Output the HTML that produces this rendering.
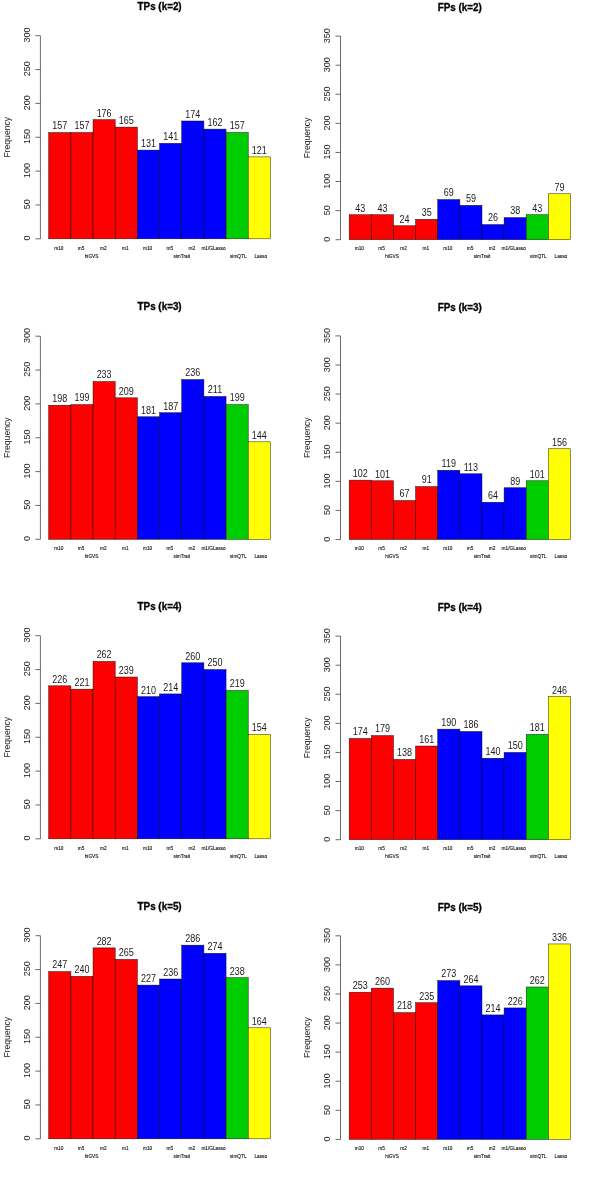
<!DOCTYPE html>
<html lang="en">
<head>
<meta charset="utf-8">
<title>TPs and FPs by method</title>
<style>
html,body{margin:0;padding:0;background:#fff;}
body{width:600px;height:1200px;overflow:hidden;}
svg{display:block;filter:blur(0.45px);font-family:"Liberation Sans",Arial,Helvetica,sans-serif;}
</style>
</head>
<body>
<svg width="600" height="1200" viewBox="0 0 600 1200">
<rect width="600" height="1200" fill="#fff"/>
<g transform="translate(0 0)">
<rect x="48.7" y="132.51" width="22.17" height="106.29" fill="#ff0000" stroke="#000" stroke-opacity="0.8" stroke-width="0.55"/>
<text transform="translate(59.79 129.41) scale(0.9 1)" font-size="10" text-anchor="middle" fill="#1a1a1a">157</text>
<rect x="70.87" y="132.51" width="22.17" height="106.29" fill="#ff0000" stroke="#000" stroke-opacity="0.8" stroke-width="0.55"/>
<text transform="translate(81.96 129.41) scale(0.9 1)" font-size="10" text-anchor="middle" fill="#1a1a1a">157</text>
<rect x="93.04" y="119.65" width="22.17" height="119.15" fill="#ff0000" stroke="#000" stroke-opacity="0.8" stroke-width="0.55"/>
<text transform="translate(104.12 116.55) scale(0.9 1)" font-size="10" text-anchor="middle" fill="#1a1a1a">176</text>
<rect x="115.21" y="127.1" width="22.17" height="111.7" fill="#ff0000" stroke="#000" stroke-opacity="0.8" stroke-width="0.55"/>
<text transform="translate(126.3 124) scale(0.9 1)" font-size="10" text-anchor="middle" fill="#1a1a1a">165</text>
<rect x="137.38" y="150.11" width="22.17" height="88.69" fill="#0000ff" stroke="#000" stroke-opacity="0.8" stroke-width="0.55"/>
<text transform="translate(148.47 147.01) scale(0.9 1)" font-size="10" text-anchor="middle" fill="#1a1a1a">131</text>
<rect x="159.55" y="143.34" width="22.17" height="95.46" fill="#0000ff" stroke="#000" stroke-opacity="0.8" stroke-width="0.55"/>
<text transform="translate(170.64 140.24) scale(0.9 1)" font-size="10" text-anchor="middle" fill="#1a1a1a">141</text>
<rect x="181.72" y="121" width="22.17" height="117.8" fill="#0000ff" stroke="#000" stroke-opacity="0.8" stroke-width="0.55"/>
<text transform="translate(192.81 117.9) scale(0.9 1)" font-size="10" text-anchor="middle" fill="#1a1a1a">174</text>
<rect x="203.89" y="129.13" width="22.17" height="109.67" fill="#0000ff" stroke="#000" stroke-opacity="0.8" stroke-width="0.55"/>
<text transform="translate(214.97 126.03) scale(0.9 1)" font-size="10" text-anchor="middle" fill="#1a1a1a">162</text>
<rect x="226.06" y="132.51" width="22.17" height="106.29" fill="#00cd00" stroke="#000" stroke-opacity="0.8" stroke-width="0.55"/>
<text transform="translate(237.15 129.41) scale(0.9 1)" font-size="10" text-anchor="middle" fill="#1a1a1a">157</text>
<rect x="248.23" y="156.88" width="22.17" height="81.92" fill="#ffff00" stroke="#000" stroke-opacity="0.8" stroke-width="0.55"/>
<text transform="translate(259.31 153.78) scale(0.9 1)" font-size="10" text-anchor="middle" fill="#1a1a1a">121</text>
<text transform="translate(29.7 238.1) rotate(-90) scale(0.96 1)" font-size="9.4" text-anchor="middle" fill="#1a1a1a">0</text>
<text transform="translate(29.7 204.25) rotate(-90) scale(0.96 1)" font-size="9.4" text-anchor="middle" fill="#1a1a1a">50</text>
<text transform="translate(29.7 170.4) rotate(-90) scale(0.96 1)" font-size="9.4" text-anchor="middle" fill="#1a1a1a">100</text>
<text transform="translate(29.7 136.55) rotate(-90) scale(0.96 1)" font-size="9.4" text-anchor="middle" fill="#1a1a1a">150</text>
<text transform="translate(29.7 102.7) rotate(-90) scale(0.96 1)" font-size="9.4" text-anchor="middle" fill="#1a1a1a">200</text>
<text transform="translate(29.7 68.85) rotate(-90) scale(0.96 1)" font-size="9.4" text-anchor="middle" fill="#1a1a1a">250</text>
<text transform="translate(29.7 35) rotate(-90) scale(0.96 1)" font-size="9.4" text-anchor="middle" fill="#1a1a1a">300</text>
<path d="M40.4 35.7V238.8M35.4 238.8H40.4M35.4 204.95H40.4M35.4 171.1H40.4M35.4 137.25H40.4M35.4 103.4H40.4M35.4 69.55H40.4M35.4 35.7H40.4" stroke="#3a3a3a" stroke-width="0.75" fill="none"/>
<text transform="translate(10.2 137.25) rotate(-90) scale(0.97 1)" font-size="8.9" text-anchor="middle" fill="#1a1a1a">Frequency</text>
<text transform="translate(159.6 9.8) scale(0.95 1)" font-size="10.4" text-anchor="middle" font-weight="bold" fill="#000" stroke="#000" stroke-width="0.3">TPs (k=2)</text>
<text transform="translate(58.89 249.5) scale(0.95 1)" font-size="5" text-anchor="middle" fill="#111" stroke="#111" stroke-width="0.12">m10</text>
<text transform="translate(81.06 249.5) scale(0.95 1)" font-size="5" text-anchor="middle" fill="#111" stroke="#111" stroke-width="0.12">m5</text>
<text transform="translate(103.22 249.5) scale(0.95 1)" font-size="5" text-anchor="middle" fill="#111" stroke="#111" stroke-width="0.12">m2</text>
<text transform="translate(125.39 249.5) scale(0.95 1)" font-size="5" text-anchor="middle" fill="#111" stroke="#111" stroke-width="0.12">m1</text>
<text transform="translate(147.57 249.5) scale(0.95 1)" font-size="5" text-anchor="middle" fill="#111" stroke="#111" stroke-width="0.12">m10</text>
<text transform="translate(169.73 249.5) scale(0.95 1)" font-size="5" text-anchor="middle" fill="#111" stroke="#111" stroke-width="0.12">m5</text>
<text transform="translate(191.91 249.5) scale(0.95 1)" font-size="5" text-anchor="middle" fill="#111" stroke="#111" stroke-width="0.12">m2</text>
<text transform="translate(213.48 249.5) scale(0.95 1)" font-size="5" text-anchor="middle" fill="#111" stroke="#111" stroke-width="0.12">m1/GLasso</text>
<text transform="translate(91.54 258.4) scale(0.95 1)" font-size="5" text-anchor="middle" fill="#111" stroke="#111" stroke-width="0.12">hiGVS</text>
<text transform="translate(181.72 258.4) scale(0.95 1)" font-size="5" text-anchor="middle" fill="#111" stroke="#111" stroke-width="0.12">simTrait</text>
<text transform="translate(238.25 258.4) scale(0.95 1)" font-size="5" text-anchor="middle" fill="#111" stroke="#111" stroke-width="0.12">simQTL</text>
<text transform="translate(260.71 258.4) scale(0.95 1)" font-size="5" text-anchor="middle" fill="#111" stroke="#111" stroke-width="0.12">Lasso</text>
</g>
<g transform="translate(300.1 0)">
<rect x="49.1" y="214.69" width="22.13" height="25.01" fill="#ff0000" stroke="#000" stroke-opacity="0.8" stroke-width="0.55"/>
<text transform="translate(60.16 211.59) scale(0.9 1)" font-size="10" text-anchor="middle" fill="#1a1a1a">43</text>
<rect x="71.23" y="214.69" width="22.13" height="25.01" fill="#ff0000" stroke="#000" stroke-opacity="0.8" stroke-width="0.55"/>
<text transform="translate(82.3 211.59) scale(0.9 1)" font-size="10" text-anchor="middle" fill="#1a1a1a">43</text>
<rect x="93.36" y="225.74" width="22.13" height="13.96" fill="#ff0000" stroke="#000" stroke-opacity="0.8" stroke-width="0.55"/>
<text transform="translate(104.42 222.64) scale(0.9 1)" font-size="10" text-anchor="middle" fill="#1a1a1a">24</text>
<rect x="115.49" y="219.34" width="22.13" height="20.36" fill="#ff0000" stroke="#000" stroke-opacity="0.8" stroke-width="0.55"/>
<text transform="translate(126.56 216.24) scale(0.9 1)" font-size="10" text-anchor="middle" fill="#1a1a1a">35</text>
<rect x="137.62" y="199.56" width="22.13" height="40.14" fill="#0000ff" stroke="#000" stroke-opacity="0.8" stroke-width="0.55"/>
<text transform="translate(148.69 196.46) scale(0.9 1)" font-size="10" text-anchor="middle" fill="#1a1a1a">69</text>
<rect x="159.75" y="205.38" width="22.13" height="34.32" fill="#0000ff" stroke="#000" stroke-opacity="0.8" stroke-width="0.55"/>
<text transform="translate(170.81 202.28) scale(0.9 1)" font-size="10" text-anchor="middle" fill="#1a1a1a">59</text>
<rect x="181.88" y="224.58" width="22.13" height="15.12" fill="#0000ff" stroke="#000" stroke-opacity="0.8" stroke-width="0.55"/>
<text transform="translate(192.94 221.48) scale(0.9 1)" font-size="10" text-anchor="middle" fill="#1a1a1a">26</text>
<rect x="204.01" y="217.59" width="22.13" height="22.11" fill="#0000ff" stroke="#000" stroke-opacity="0.8" stroke-width="0.55"/>
<text transform="translate(215.07 214.49) scale(0.9 1)" font-size="10" text-anchor="middle" fill="#1a1a1a">38</text>
<rect x="226.14" y="214.69" width="22.13" height="25.01" fill="#00cd00" stroke="#000" stroke-opacity="0.8" stroke-width="0.55"/>
<text transform="translate(237.2 211.59) scale(0.9 1)" font-size="10" text-anchor="middle" fill="#1a1a1a">43</text>
<rect x="248.27" y="193.74" width="22.13" height="45.96" fill="#ffff00" stroke="#000" stroke-opacity="0.8" stroke-width="0.55"/>
<text transform="translate(259.33 190.64) scale(0.9 1)" font-size="10" text-anchor="middle" fill="#1a1a1a">79</text>
<text transform="translate(29.7 239.35) rotate(-90) scale(0.96 1)" font-size="9.4" text-anchor="middle" fill="#1a1a1a">0</text>
<text transform="translate(29.7 210.26) rotate(-90) scale(0.96 1)" font-size="9.4" text-anchor="middle" fill="#1a1a1a">50</text>
<text transform="translate(29.7 181.18) rotate(-90) scale(0.96 1)" font-size="9.4" text-anchor="middle" fill="#1a1a1a">100</text>
<text transform="translate(29.7 152.09) rotate(-90) scale(0.96 1)" font-size="9.4" text-anchor="middle" fill="#1a1a1a">150</text>
<text transform="translate(29.7 123.01) rotate(-90) scale(0.96 1)" font-size="9.4" text-anchor="middle" fill="#1a1a1a">200</text>
<text transform="translate(29.7 93.92) rotate(-90) scale(0.96 1)" font-size="9.4" text-anchor="middle" fill="#1a1a1a">250</text>
<text transform="translate(29.7 64.84) rotate(-90) scale(0.96 1)" font-size="9.4" text-anchor="middle" fill="#1a1a1a">300</text>
<text transform="translate(29.7 35.75) rotate(-90) scale(0.96 1)" font-size="9.4" text-anchor="middle" fill="#1a1a1a">350</text>
<path d="M40.4 36.1V239.7M35.4 239.7H40.4M35.4 210.61H40.4M35.4 181.53H40.4M35.4 152.44H40.4M35.4 123.36H40.4M35.4 94.27H40.4M35.4 65.19H40.4M35.4 36.1H40.4" stroke="#3a3a3a" stroke-width="0.75" fill="none"/>
<text transform="translate(10.2 137.9) rotate(-90) scale(0.97 1)" font-size="8.9" text-anchor="middle" fill="#1a1a1a">Frequency</text>
<text transform="translate(159.6 10.5) scale(0.95 1)" font-size="10.4" text-anchor="middle" font-weight="bold" fill="#000" stroke="#000" stroke-width="0.3">FPs (k=2)</text>
<text transform="translate(59.27 249.5) scale(0.95 1)" font-size="5" text-anchor="middle" fill="#111" stroke="#111" stroke-width="0.12">m10</text>
<text transform="translate(81.39 249.5) scale(0.95 1)" font-size="5" text-anchor="middle" fill="#111" stroke="#111" stroke-width="0.12">m5</text>
<text transform="translate(103.52 249.5) scale(0.95 1)" font-size="5" text-anchor="middle" fill="#111" stroke="#111" stroke-width="0.12">m2</text>
<text transform="translate(125.66 249.5) scale(0.95 1)" font-size="5" text-anchor="middle" fill="#111" stroke="#111" stroke-width="0.12">m1</text>
<text transform="translate(147.78 249.5) scale(0.95 1)" font-size="5" text-anchor="middle" fill="#111" stroke="#111" stroke-width="0.12">m10</text>
<text transform="translate(169.91 249.5) scale(0.95 1)" font-size="5" text-anchor="middle" fill="#111" stroke="#111" stroke-width="0.12">m5</text>
<text transform="translate(192.04 249.5) scale(0.95 1)" font-size="5" text-anchor="middle" fill="#111" stroke="#111" stroke-width="0.12">m2</text>
<text transform="translate(213.57 249.5) scale(0.95 1)" font-size="5" text-anchor="middle" fill="#111" stroke="#111" stroke-width="0.12">m1/GLasso</text>
<text transform="translate(91.86 258.4) scale(0.95 1)" font-size="5" text-anchor="middle" fill="#111" stroke="#111" stroke-width="0.12">hiGVS</text>
<text transform="translate(181.88 258.4) scale(0.95 1)" font-size="5" text-anchor="middle" fill="#111" stroke="#111" stroke-width="0.12">simTrait</text>
<text transform="translate(238.3 258.4) scale(0.95 1)" font-size="5" text-anchor="middle" fill="#111" stroke="#111" stroke-width="0.12">simQTL</text>
<text transform="translate(260.73 258.4) scale(0.95 1)" font-size="5" text-anchor="middle" fill="#111" stroke="#111" stroke-width="0.12">Lasso</text>
</g>
<g transform="translate(0 300)">
<rect x="48.7" y="105.25" width="22.17" height="134.05" fill="#ff0000" stroke="#000" stroke-opacity="0.8" stroke-width="0.55"/>
<text transform="translate(59.79 102.15) scale(0.9 1)" font-size="10" text-anchor="middle" fill="#1a1a1a">198</text>
<rect x="70.87" y="104.58" width="22.17" height="134.72" fill="#ff0000" stroke="#000" stroke-opacity="0.8" stroke-width="0.55"/>
<text transform="translate(81.96 101.48) scale(0.9 1)" font-size="10" text-anchor="middle" fill="#1a1a1a">199</text>
<rect x="93.04" y="81.56" width="22.17" height="157.74" fill="#ff0000" stroke="#000" stroke-opacity="0.8" stroke-width="0.55"/>
<text transform="translate(104.12 78.46) scale(0.9 1)" font-size="10" text-anchor="middle" fill="#1a1a1a">233</text>
<rect x="115.21" y="97.81" width="22.17" height="141.49" fill="#ff0000" stroke="#000" stroke-opacity="0.8" stroke-width="0.55"/>
<text transform="translate(126.3 94.71) scale(0.9 1)" font-size="10" text-anchor="middle" fill="#1a1a1a">209</text>
<rect x="137.38" y="116.76" width="22.17" height="122.54" fill="#0000ff" stroke="#000" stroke-opacity="0.8" stroke-width="0.55"/>
<text transform="translate(148.47 113.66) scale(0.9 1)" font-size="10" text-anchor="middle" fill="#1a1a1a">181</text>
<rect x="159.55" y="112.7" width="22.17" height="126.6" fill="#0000ff" stroke="#000" stroke-opacity="0.8" stroke-width="0.55"/>
<text transform="translate(170.64 109.6) scale(0.9 1)" font-size="10" text-anchor="middle" fill="#1a1a1a">187</text>
<rect x="181.72" y="79.53" width="22.17" height="159.77" fill="#0000ff" stroke="#000" stroke-opacity="0.8" stroke-width="0.55"/>
<text transform="translate(192.81 76.43) scale(0.9 1)" font-size="10" text-anchor="middle" fill="#1a1a1a">236</text>
<rect x="203.89" y="96.45" width="22.17" height="142.85" fill="#0000ff" stroke="#000" stroke-opacity="0.8" stroke-width="0.55"/>
<text transform="translate(214.97 93.35) scale(0.9 1)" font-size="10" text-anchor="middle" fill="#1a1a1a">211</text>
<rect x="226.06" y="104.58" width="22.17" height="134.72" fill="#00cd00" stroke="#000" stroke-opacity="0.8" stroke-width="0.55"/>
<text transform="translate(237.15 101.48) scale(0.9 1)" font-size="10" text-anchor="middle" fill="#1a1a1a">199</text>
<rect x="248.23" y="141.81" width="22.17" height="97.49" fill="#ffff00" stroke="#000" stroke-opacity="0.8" stroke-width="0.55"/>
<text transform="translate(259.31 138.71) scale(0.9 1)" font-size="10" text-anchor="middle" fill="#1a1a1a">144</text>
<text transform="translate(29.7 238.6) rotate(-90) scale(0.96 1)" font-size="9.4" text-anchor="middle" fill="#1a1a1a">0</text>
<text transform="translate(29.7 204.75) rotate(-90) scale(0.96 1)" font-size="9.4" text-anchor="middle" fill="#1a1a1a">50</text>
<text transform="translate(29.7 170.9) rotate(-90) scale(0.96 1)" font-size="9.4" text-anchor="middle" fill="#1a1a1a">100</text>
<text transform="translate(29.7 137.05) rotate(-90) scale(0.96 1)" font-size="9.4" text-anchor="middle" fill="#1a1a1a">150</text>
<text transform="translate(29.7 103.2) rotate(-90) scale(0.96 1)" font-size="9.4" text-anchor="middle" fill="#1a1a1a">200</text>
<text transform="translate(29.7 69.35) rotate(-90) scale(0.96 1)" font-size="9.4" text-anchor="middle" fill="#1a1a1a">250</text>
<text transform="translate(29.7 35.5) rotate(-90) scale(0.96 1)" font-size="9.4" text-anchor="middle" fill="#1a1a1a">300</text>
<path d="M40.4 36.2V239.3M35.4 239.3H40.4M35.4 205.45H40.4M35.4 171.6H40.4M35.4 137.75H40.4M35.4 103.9H40.4M35.4 70.05H40.4M35.4 36.2H40.4" stroke="#3a3a3a" stroke-width="0.75" fill="none"/>
<text transform="translate(10.2 137.75) rotate(-90) scale(0.97 1)" font-size="8.9" text-anchor="middle" fill="#1a1a1a">Frequency</text>
<text transform="translate(159.6 9.8) scale(0.95 1)" font-size="10.4" text-anchor="middle" font-weight="bold" fill="#000" stroke="#000" stroke-width="0.3">TPs (k=3)</text>
<text transform="translate(58.89 249.5) scale(0.95 1)" font-size="5" text-anchor="middle" fill="#111" stroke="#111" stroke-width="0.12">m10</text>
<text transform="translate(81.06 249.5) scale(0.95 1)" font-size="5" text-anchor="middle" fill="#111" stroke="#111" stroke-width="0.12">m5</text>
<text transform="translate(103.22 249.5) scale(0.95 1)" font-size="5" text-anchor="middle" fill="#111" stroke="#111" stroke-width="0.12">m2</text>
<text transform="translate(125.39 249.5) scale(0.95 1)" font-size="5" text-anchor="middle" fill="#111" stroke="#111" stroke-width="0.12">m1</text>
<text transform="translate(147.57 249.5) scale(0.95 1)" font-size="5" text-anchor="middle" fill="#111" stroke="#111" stroke-width="0.12">m10</text>
<text transform="translate(169.73 249.5) scale(0.95 1)" font-size="5" text-anchor="middle" fill="#111" stroke="#111" stroke-width="0.12">m5</text>
<text transform="translate(191.91 249.5) scale(0.95 1)" font-size="5" text-anchor="middle" fill="#111" stroke="#111" stroke-width="0.12">m2</text>
<text transform="translate(213.48 249.5) scale(0.95 1)" font-size="5" text-anchor="middle" fill="#111" stroke="#111" stroke-width="0.12">m1/GLasso</text>
<text transform="translate(91.54 258.4) scale(0.95 1)" font-size="5" text-anchor="middle" fill="#111" stroke="#111" stroke-width="0.12">hiGVS</text>
<text transform="translate(181.72 258.4) scale(0.95 1)" font-size="5" text-anchor="middle" fill="#111" stroke="#111" stroke-width="0.12">simTrait</text>
<text transform="translate(238.25 258.4) scale(0.95 1)" font-size="5" text-anchor="middle" fill="#111" stroke="#111" stroke-width="0.12">simQTL</text>
<text transform="translate(260.71 258.4) scale(0.95 1)" font-size="5" text-anchor="middle" fill="#111" stroke="#111" stroke-width="0.12">Lasso</text>
</g>
<g transform="translate(300.1 300)">
<rect x="49.1" y="180.17" width="22.13" height="59.33" fill="#ff0000" stroke="#000" stroke-opacity="0.8" stroke-width="0.55"/>
<text transform="translate(60.16 177.07) scale(0.9 1)" font-size="10" text-anchor="middle" fill="#1a1a1a">102</text>
<rect x="71.23" y="180.75" width="22.13" height="58.75" fill="#ff0000" stroke="#000" stroke-opacity="0.8" stroke-width="0.55"/>
<text transform="translate(82.3 177.65) scale(0.9 1)" font-size="10" text-anchor="middle" fill="#1a1a1a">101</text>
<rect x="93.36" y="200.53" width="22.13" height="38.97" fill="#ff0000" stroke="#000" stroke-opacity="0.8" stroke-width="0.55"/>
<text transform="translate(104.42 197.43) scale(0.9 1)" font-size="10" text-anchor="middle" fill="#1a1a1a">67</text>
<rect x="115.49" y="186.56" width="22.13" height="52.94" fill="#ff0000" stroke="#000" stroke-opacity="0.8" stroke-width="0.55"/>
<text transform="translate(126.56 183.46) scale(0.9 1)" font-size="10" text-anchor="middle" fill="#1a1a1a">91</text>
<rect x="137.62" y="170.28" width="22.13" height="69.22" fill="#0000ff" stroke="#000" stroke-opacity="0.8" stroke-width="0.55"/>
<text transform="translate(148.69 167.18) scale(0.9 1)" font-size="10" text-anchor="middle" fill="#1a1a1a">119</text>
<rect x="159.75" y="173.77" width="22.13" height="65.73" fill="#0000ff" stroke="#000" stroke-opacity="0.8" stroke-width="0.55"/>
<text transform="translate(170.81 170.67) scale(0.9 1)" font-size="10" text-anchor="middle" fill="#1a1a1a">113</text>
<rect x="181.88" y="202.27" width="22.13" height="37.23" fill="#0000ff" stroke="#000" stroke-opacity="0.8" stroke-width="0.55"/>
<text transform="translate(192.94 199.17) scale(0.9 1)" font-size="10" text-anchor="middle" fill="#1a1a1a">64</text>
<rect x="204.01" y="187.73" width="22.13" height="51.77" fill="#0000ff" stroke="#000" stroke-opacity="0.8" stroke-width="0.55"/>
<text transform="translate(215.07 184.63) scale(0.9 1)" font-size="10" text-anchor="middle" fill="#1a1a1a">89</text>
<rect x="226.14" y="180.75" width="22.13" height="58.75" fill="#00cd00" stroke="#000" stroke-opacity="0.8" stroke-width="0.55"/>
<text transform="translate(237.2 177.65) scale(0.9 1)" font-size="10" text-anchor="middle" fill="#1a1a1a">101</text>
<rect x="248.27" y="148.75" width="22.13" height="90.75" fill="#ffff00" stroke="#000" stroke-opacity="0.8" stroke-width="0.55"/>
<text transform="translate(259.33 145.65) scale(0.9 1)" font-size="10" text-anchor="middle" fill="#1a1a1a">156</text>
<text transform="translate(29.7 239.15) rotate(-90) scale(0.96 1)" font-size="9.4" text-anchor="middle" fill="#1a1a1a">0</text>
<text transform="translate(29.7 210.06) rotate(-90) scale(0.96 1)" font-size="9.4" text-anchor="middle" fill="#1a1a1a">50</text>
<text transform="translate(29.7 180.98) rotate(-90) scale(0.96 1)" font-size="9.4" text-anchor="middle" fill="#1a1a1a">100</text>
<text transform="translate(29.7 151.89) rotate(-90) scale(0.96 1)" font-size="9.4" text-anchor="middle" fill="#1a1a1a">150</text>
<text transform="translate(29.7 122.81) rotate(-90) scale(0.96 1)" font-size="9.4" text-anchor="middle" fill="#1a1a1a">200</text>
<text transform="translate(29.7 93.72) rotate(-90) scale(0.96 1)" font-size="9.4" text-anchor="middle" fill="#1a1a1a">250</text>
<text transform="translate(29.7 64.64) rotate(-90) scale(0.96 1)" font-size="9.4" text-anchor="middle" fill="#1a1a1a">300</text>
<text transform="translate(29.7 35.55) rotate(-90) scale(0.96 1)" font-size="9.4" text-anchor="middle" fill="#1a1a1a">350</text>
<path d="M40.4 35.9V239.5M35.4 239.5H40.4M35.4 210.41H40.4M35.4 181.33H40.4M35.4 152.24H40.4M35.4 123.16H40.4M35.4 94.07H40.4M35.4 64.99H40.4M35.4 35.9H40.4" stroke="#3a3a3a" stroke-width="0.75" fill="none"/>
<text transform="translate(10.2 137.7) rotate(-90) scale(0.97 1)" font-size="8.9" text-anchor="middle" fill="#1a1a1a">Frequency</text>
<text transform="translate(159.6 10.5) scale(0.95 1)" font-size="10.4" text-anchor="middle" font-weight="bold" fill="#000" stroke="#000" stroke-width="0.3">FPs (k=3)</text>
<text transform="translate(59.27 249.5) scale(0.95 1)" font-size="5" text-anchor="middle" fill="#111" stroke="#111" stroke-width="0.12">m10</text>
<text transform="translate(81.39 249.5) scale(0.95 1)" font-size="5" text-anchor="middle" fill="#111" stroke="#111" stroke-width="0.12">m5</text>
<text transform="translate(103.52 249.5) scale(0.95 1)" font-size="5" text-anchor="middle" fill="#111" stroke="#111" stroke-width="0.12">m2</text>
<text transform="translate(125.66 249.5) scale(0.95 1)" font-size="5" text-anchor="middle" fill="#111" stroke="#111" stroke-width="0.12">m1</text>
<text transform="translate(147.78 249.5) scale(0.95 1)" font-size="5" text-anchor="middle" fill="#111" stroke="#111" stroke-width="0.12">m10</text>
<text transform="translate(169.91 249.5) scale(0.95 1)" font-size="5" text-anchor="middle" fill="#111" stroke="#111" stroke-width="0.12">m5</text>
<text transform="translate(192.04 249.5) scale(0.95 1)" font-size="5" text-anchor="middle" fill="#111" stroke="#111" stroke-width="0.12">m2</text>
<text transform="translate(213.57 249.5) scale(0.95 1)" font-size="5" text-anchor="middle" fill="#111" stroke="#111" stroke-width="0.12">m1/GLasso</text>
<text transform="translate(91.86 258.4) scale(0.95 1)" font-size="5" text-anchor="middle" fill="#111" stroke="#111" stroke-width="0.12">hiGVS</text>
<text transform="translate(181.88 258.4) scale(0.95 1)" font-size="5" text-anchor="middle" fill="#111" stroke="#111" stroke-width="0.12">simTrait</text>
<text transform="translate(238.3 258.4) scale(0.95 1)" font-size="5" text-anchor="middle" fill="#111" stroke="#111" stroke-width="0.12">simQTL</text>
<text transform="translate(260.73 258.4) scale(0.95 1)" font-size="5" text-anchor="middle" fill="#111" stroke="#111" stroke-width="0.12">Lasso</text>
</g>
<g transform="translate(0 600)">
<rect x="48.7" y="85.8" width="22.17" height="153" fill="#ff0000" stroke="#000" stroke-opacity="0.8" stroke-width="0.55"/>
<text transform="translate(59.79 82.7) scale(0.9 1)" font-size="10" text-anchor="middle" fill="#1a1a1a">226</text>
<rect x="70.87" y="89.18" width="22.17" height="149.62" fill="#ff0000" stroke="#000" stroke-opacity="0.8" stroke-width="0.55"/>
<text transform="translate(81.96 86.08) scale(0.9 1)" font-size="10" text-anchor="middle" fill="#1a1a1a">221</text>
<rect x="93.04" y="61.43" width="22.17" height="177.37" fill="#ff0000" stroke="#000" stroke-opacity="0.8" stroke-width="0.55"/>
<text transform="translate(104.12 58.33) scale(0.9 1)" font-size="10" text-anchor="middle" fill="#1a1a1a">262</text>
<rect x="115.21" y="77" width="22.17" height="161.8" fill="#ff0000" stroke="#000" stroke-opacity="0.8" stroke-width="0.55"/>
<text transform="translate(126.3 73.9) scale(0.9 1)" font-size="10" text-anchor="middle" fill="#1a1a1a">239</text>
<rect x="137.38" y="96.63" width="22.17" height="142.17" fill="#0000ff" stroke="#000" stroke-opacity="0.8" stroke-width="0.55"/>
<text transform="translate(148.47 93.53) scale(0.9 1)" font-size="10" text-anchor="middle" fill="#1a1a1a">210</text>
<rect x="159.55" y="93.92" width="22.17" height="144.88" fill="#0000ff" stroke="#000" stroke-opacity="0.8" stroke-width="0.55"/>
<text transform="translate(170.64 90.82) scale(0.9 1)" font-size="10" text-anchor="middle" fill="#1a1a1a">214</text>
<rect x="181.72" y="62.78" width="22.17" height="176.02" fill="#0000ff" stroke="#000" stroke-opacity="0.8" stroke-width="0.55"/>
<text transform="translate(192.81 59.68) scale(0.9 1)" font-size="10" text-anchor="middle" fill="#1a1a1a">260</text>
<rect x="203.89" y="69.55" width="22.17" height="169.25" fill="#0000ff" stroke="#000" stroke-opacity="0.8" stroke-width="0.55"/>
<text transform="translate(214.97 66.45) scale(0.9 1)" font-size="10" text-anchor="middle" fill="#1a1a1a">250</text>
<rect x="226.06" y="90.54" width="22.17" height="148.26" fill="#00cd00" stroke="#000" stroke-opacity="0.8" stroke-width="0.55"/>
<text transform="translate(237.15 87.44) scale(0.9 1)" font-size="10" text-anchor="middle" fill="#1a1a1a">219</text>
<rect x="248.23" y="134.54" width="22.17" height="104.26" fill="#ffff00" stroke="#000" stroke-opacity="0.8" stroke-width="0.55"/>
<text transform="translate(259.31 131.44) scale(0.9 1)" font-size="10" text-anchor="middle" fill="#1a1a1a">154</text>
<text transform="translate(29.7 238.1) rotate(-90) scale(0.96 1)" font-size="9.4" text-anchor="middle" fill="#1a1a1a">0</text>
<text transform="translate(29.7 204.25) rotate(-90) scale(0.96 1)" font-size="9.4" text-anchor="middle" fill="#1a1a1a">50</text>
<text transform="translate(29.7 170.4) rotate(-90) scale(0.96 1)" font-size="9.4" text-anchor="middle" fill="#1a1a1a">100</text>
<text transform="translate(29.7 136.55) rotate(-90) scale(0.96 1)" font-size="9.4" text-anchor="middle" fill="#1a1a1a">150</text>
<text transform="translate(29.7 102.7) rotate(-90) scale(0.96 1)" font-size="9.4" text-anchor="middle" fill="#1a1a1a">200</text>
<text transform="translate(29.7 68.85) rotate(-90) scale(0.96 1)" font-size="9.4" text-anchor="middle" fill="#1a1a1a">250</text>
<text transform="translate(29.7 35) rotate(-90) scale(0.96 1)" font-size="9.4" text-anchor="middle" fill="#1a1a1a">300</text>
<path d="M40.4 35.7V238.8M35.4 238.8H40.4M35.4 204.95H40.4M35.4 171.1H40.4M35.4 137.25H40.4M35.4 103.4H40.4M35.4 69.55H40.4M35.4 35.7H40.4" stroke="#3a3a3a" stroke-width="0.75" fill="none"/>
<text transform="translate(10.2 137.25) rotate(-90) scale(0.97 1)" font-size="8.9" text-anchor="middle" fill="#1a1a1a">Frequency</text>
<text transform="translate(159.6 9.8) scale(0.95 1)" font-size="10.4" text-anchor="middle" font-weight="bold" fill="#000" stroke="#000" stroke-width="0.3">TPs (k=4)</text>
<text transform="translate(58.89 249.5) scale(0.95 1)" font-size="5" text-anchor="middle" fill="#111" stroke="#111" stroke-width="0.12">m10</text>
<text transform="translate(81.06 249.5) scale(0.95 1)" font-size="5" text-anchor="middle" fill="#111" stroke="#111" stroke-width="0.12">m5</text>
<text transform="translate(103.22 249.5) scale(0.95 1)" font-size="5" text-anchor="middle" fill="#111" stroke="#111" stroke-width="0.12">m2</text>
<text transform="translate(125.39 249.5) scale(0.95 1)" font-size="5" text-anchor="middle" fill="#111" stroke="#111" stroke-width="0.12">m1</text>
<text transform="translate(147.57 249.5) scale(0.95 1)" font-size="5" text-anchor="middle" fill="#111" stroke="#111" stroke-width="0.12">m10</text>
<text transform="translate(169.73 249.5) scale(0.95 1)" font-size="5" text-anchor="middle" fill="#111" stroke="#111" stroke-width="0.12">m5</text>
<text transform="translate(191.91 249.5) scale(0.95 1)" font-size="5" text-anchor="middle" fill="#111" stroke="#111" stroke-width="0.12">m2</text>
<text transform="translate(213.48 249.5) scale(0.95 1)" font-size="5" text-anchor="middle" fill="#111" stroke="#111" stroke-width="0.12">m1/GLasso</text>
<text transform="translate(91.54 258.4) scale(0.95 1)" font-size="5" text-anchor="middle" fill="#111" stroke="#111" stroke-width="0.12">hiGVS</text>
<text transform="translate(181.72 258.4) scale(0.95 1)" font-size="5" text-anchor="middle" fill="#111" stroke="#111" stroke-width="0.12">simTrait</text>
<text transform="translate(238.25 258.4) scale(0.95 1)" font-size="5" text-anchor="middle" fill="#111" stroke="#111" stroke-width="0.12">simQTL</text>
<text transform="translate(260.71 258.4) scale(0.95 1)" font-size="5" text-anchor="middle" fill="#111" stroke="#111" stroke-width="0.12">Lasso</text>
</g>
<g transform="translate(300.1 600)">
<rect x="49.1" y="138.48" width="22.13" height="101.22" fill="#ff0000" stroke="#000" stroke-opacity="0.8" stroke-width="0.55"/>
<text transform="translate(60.16 135.38) scale(0.9 1)" font-size="10" text-anchor="middle" fill="#1a1a1a">174</text>
<rect x="71.23" y="135.57" width="22.13" height="104.13" fill="#ff0000" stroke="#000" stroke-opacity="0.8" stroke-width="0.55"/>
<text transform="translate(82.3 132.47) scale(0.9 1)" font-size="10" text-anchor="middle" fill="#1a1a1a">179</text>
<rect x="93.36" y="159.42" width="22.13" height="80.28" fill="#ff0000" stroke="#000" stroke-opacity="0.8" stroke-width="0.55"/>
<text transform="translate(104.42 156.32) scale(0.9 1)" font-size="10" text-anchor="middle" fill="#1a1a1a">138</text>
<rect x="115.49" y="146.04" width="22.13" height="93.66" fill="#ff0000" stroke="#000" stroke-opacity="0.8" stroke-width="0.55"/>
<text transform="translate(126.56 142.94) scale(0.9 1)" font-size="10" text-anchor="middle" fill="#1a1a1a">161</text>
<rect x="137.62" y="129.17" width="22.13" height="110.53" fill="#0000ff" stroke="#000" stroke-opacity="0.8" stroke-width="0.55"/>
<text transform="translate(148.69 126.07) scale(0.9 1)" font-size="10" text-anchor="middle" fill="#1a1a1a">190</text>
<rect x="159.75" y="131.5" width="22.13" height="108.2" fill="#0000ff" stroke="#000" stroke-opacity="0.8" stroke-width="0.55"/>
<text transform="translate(170.81 128.4) scale(0.9 1)" font-size="10" text-anchor="middle" fill="#1a1a1a">186</text>
<rect x="181.88" y="158.26" width="22.13" height="81.44" fill="#0000ff" stroke="#000" stroke-opacity="0.8" stroke-width="0.55"/>
<text transform="translate(192.94 155.16) scale(0.9 1)" font-size="10" text-anchor="middle" fill="#1a1a1a">140</text>
<rect x="204.01" y="152.44" width="22.13" height="87.26" fill="#0000ff" stroke="#000" stroke-opacity="0.8" stroke-width="0.55"/>
<text transform="translate(215.07 149.34) scale(0.9 1)" font-size="10" text-anchor="middle" fill="#1a1a1a">150</text>
<rect x="226.14" y="134.41" width="22.13" height="105.29" fill="#00cd00" stroke="#000" stroke-opacity="0.8" stroke-width="0.55"/>
<text transform="translate(237.2 131.31) scale(0.9 1)" font-size="10" text-anchor="middle" fill="#1a1a1a">181</text>
<rect x="248.27" y="96.6" width="22.13" height="143.1" fill="#ffff00" stroke="#000" stroke-opacity="0.8" stroke-width="0.55"/>
<text transform="translate(259.33 93.5) scale(0.9 1)" font-size="10" text-anchor="middle" fill="#1a1a1a">246</text>
<text transform="translate(29.7 239.35) rotate(-90) scale(0.96 1)" font-size="9.4" text-anchor="middle" fill="#1a1a1a">0</text>
<text transform="translate(29.7 210.26) rotate(-90) scale(0.96 1)" font-size="9.4" text-anchor="middle" fill="#1a1a1a">50</text>
<text transform="translate(29.7 181.18) rotate(-90) scale(0.96 1)" font-size="9.4" text-anchor="middle" fill="#1a1a1a">100</text>
<text transform="translate(29.7 152.09) rotate(-90) scale(0.96 1)" font-size="9.4" text-anchor="middle" fill="#1a1a1a">150</text>
<text transform="translate(29.7 123.01) rotate(-90) scale(0.96 1)" font-size="9.4" text-anchor="middle" fill="#1a1a1a">200</text>
<text transform="translate(29.7 93.92) rotate(-90) scale(0.96 1)" font-size="9.4" text-anchor="middle" fill="#1a1a1a">250</text>
<text transform="translate(29.7 64.84) rotate(-90) scale(0.96 1)" font-size="9.4" text-anchor="middle" fill="#1a1a1a">300</text>
<text transform="translate(29.7 35.75) rotate(-90) scale(0.96 1)" font-size="9.4" text-anchor="middle" fill="#1a1a1a">350</text>
<path d="M40.4 36.1V239.7M35.4 239.7H40.4M35.4 210.61H40.4M35.4 181.53H40.4M35.4 152.44H40.4M35.4 123.36H40.4M35.4 94.27H40.4M35.4 65.19H40.4M35.4 36.1H40.4" stroke="#3a3a3a" stroke-width="0.75" fill="none"/>
<text transform="translate(10.2 137.9) rotate(-90) scale(0.97 1)" font-size="8.9" text-anchor="middle" fill="#1a1a1a">Frequency</text>
<text transform="translate(159.6 10.5) scale(0.95 1)" font-size="10.4" text-anchor="middle" font-weight="bold" fill="#000" stroke="#000" stroke-width="0.3">FPs (k=4)</text>
<text transform="translate(59.27 249.5) scale(0.95 1)" font-size="5" text-anchor="middle" fill="#111" stroke="#111" stroke-width="0.12">m10</text>
<text transform="translate(81.39 249.5) scale(0.95 1)" font-size="5" text-anchor="middle" fill="#111" stroke="#111" stroke-width="0.12">m5</text>
<text transform="translate(103.52 249.5) scale(0.95 1)" font-size="5" text-anchor="middle" fill="#111" stroke="#111" stroke-width="0.12">m2</text>
<text transform="translate(125.66 249.5) scale(0.95 1)" font-size="5" text-anchor="middle" fill="#111" stroke="#111" stroke-width="0.12">m1</text>
<text transform="translate(147.78 249.5) scale(0.95 1)" font-size="5" text-anchor="middle" fill="#111" stroke="#111" stroke-width="0.12">m10</text>
<text transform="translate(169.91 249.5) scale(0.95 1)" font-size="5" text-anchor="middle" fill="#111" stroke="#111" stroke-width="0.12">m5</text>
<text transform="translate(192.04 249.5) scale(0.95 1)" font-size="5" text-anchor="middle" fill="#111" stroke="#111" stroke-width="0.12">m2</text>
<text transform="translate(213.57 249.5) scale(0.95 1)" font-size="5" text-anchor="middle" fill="#111" stroke="#111" stroke-width="0.12">m1/GLasso</text>
<text transform="translate(91.86 258.4) scale(0.95 1)" font-size="5" text-anchor="middle" fill="#111" stroke="#111" stroke-width="0.12">hiGVS</text>
<text transform="translate(181.88 258.4) scale(0.95 1)" font-size="5" text-anchor="middle" fill="#111" stroke="#111" stroke-width="0.12">simTrait</text>
<text transform="translate(238.3 258.4) scale(0.95 1)" font-size="5" text-anchor="middle" fill="#111" stroke="#111" stroke-width="0.12">simQTL</text>
<text transform="translate(260.73 258.4) scale(0.95 1)" font-size="5" text-anchor="middle" fill="#111" stroke="#111" stroke-width="0.12">Lasso</text>
</g>
<g transform="translate(0 900)">
<rect x="48.7" y="71.58" width="22.17" height="167.22" fill="#ff0000" stroke="#000" stroke-opacity="0.8" stroke-width="0.55"/>
<text transform="translate(59.79 68.48) scale(0.9 1)" font-size="10" text-anchor="middle" fill="#1a1a1a">247</text>
<rect x="70.87" y="76.32" width="22.17" height="162.48" fill="#ff0000" stroke="#000" stroke-opacity="0.8" stroke-width="0.55"/>
<text transform="translate(81.96 73.22) scale(0.9 1)" font-size="10" text-anchor="middle" fill="#1a1a1a">240</text>
<rect x="93.04" y="47.89" width="22.17" height="190.91" fill="#ff0000" stroke="#000" stroke-opacity="0.8" stroke-width="0.55"/>
<text transform="translate(104.12 44.79) scale(0.9 1)" font-size="10" text-anchor="middle" fill="#1a1a1a">282</text>
<rect x="115.21" y="59.4" width="22.17" height="179.4" fill="#ff0000" stroke="#000" stroke-opacity="0.8" stroke-width="0.55"/>
<text transform="translate(126.3 56.3) scale(0.9 1)" font-size="10" text-anchor="middle" fill="#1a1a1a">265</text>
<rect x="137.38" y="85.12" width="22.17" height="153.68" fill="#0000ff" stroke="#000" stroke-opacity="0.8" stroke-width="0.55"/>
<text transform="translate(148.47 82.02) scale(0.9 1)" font-size="10" text-anchor="middle" fill="#1a1a1a">227</text>
<rect x="159.55" y="79.03" width="22.17" height="159.77" fill="#0000ff" stroke="#000" stroke-opacity="0.8" stroke-width="0.55"/>
<text transform="translate(170.64 75.93) scale(0.9 1)" font-size="10" text-anchor="middle" fill="#1a1a1a">236</text>
<rect x="181.72" y="45.18" width="22.17" height="193.62" fill="#0000ff" stroke="#000" stroke-opacity="0.8" stroke-width="0.55"/>
<text transform="translate(192.81 42.08) scale(0.9 1)" font-size="10" text-anchor="middle" fill="#1a1a1a">286</text>
<rect x="203.89" y="53.3" width="22.17" height="185.5" fill="#0000ff" stroke="#000" stroke-opacity="0.8" stroke-width="0.55"/>
<text transform="translate(214.97 50.2) scale(0.9 1)" font-size="10" text-anchor="middle" fill="#1a1a1a">274</text>
<rect x="226.06" y="77.67" width="22.17" height="161.13" fill="#00cd00" stroke="#000" stroke-opacity="0.8" stroke-width="0.55"/>
<text transform="translate(237.15 74.57) scale(0.9 1)" font-size="10" text-anchor="middle" fill="#1a1a1a">238</text>
<rect x="248.23" y="127.77" width="22.17" height="111.03" fill="#ffff00" stroke="#000" stroke-opacity="0.8" stroke-width="0.55"/>
<text transform="translate(259.31 124.67) scale(0.9 1)" font-size="10" text-anchor="middle" fill="#1a1a1a">164</text>
<text transform="translate(29.7 238.1) rotate(-90) scale(0.96 1)" font-size="9.4" text-anchor="middle" fill="#1a1a1a">0</text>
<text transform="translate(29.7 204.25) rotate(-90) scale(0.96 1)" font-size="9.4" text-anchor="middle" fill="#1a1a1a">50</text>
<text transform="translate(29.7 170.4) rotate(-90) scale(0.96 1)" font-size="9.4" text-anchor="middle" fill="#1a1a1a">100</text>
<text transform="translate(29.7 136.55) rotate(-90) scale(0.96 1)" font-size="9.4" text-anchor="middle" fill="#1a1a1a">150</text>
<text transform="translate(29.7 102.7) rotate(-90) scale(0.96 1)" font-size="9.4" text-anchor="middle" fill="#1a1a1a">200</text>
<text transform="translate(29.7 68.85) rotate(-90) scale(0.96 1)" font-size="9.4" text-anchor="middle" fill="#1a1a1a">250</text>
<text transform="translate(29.7 35) rotate(-90) scale(0.96 1)" font-size="9.4" text-anchor="middle" fill="#1a1a1a">300</text>
<path d="M40.4 35.7V238.8M35.4 238.8H40.4M35.4 204.95H40.4M35.4 171.1H40.4M35.4 137.25H40.4M35.4 103.4H40.4M35.4 69.55H40.4M35.4 35.7H40.4" stroke="#3a3a3a" stroke-width="0.75" fill="none"/>
<text transform="translate(10.2 137.25) rotate(-90) scale(0.97 1)" font-size="8.9" text-anchor="middle" fill="#1a1a1a">Frequency</text>
<text transform="translate(159.6 9.8) scale(0.95 1)" font-size="10.4" text-anchor="middle" font-weight="bold" fill="#000" stroke="#000" stroke-width="0.3">TPs (k=5)</text>
<text transform="translate(58.89 249.5) scale(0.95 1)" font-size="5" text-anchor="middle" fill="#111" stroke="#111" stroke-width="0.12">m10</text>
<text transform="translate(81.06 249.5) scale(0.95 1)" font-size="5" text-anchor="middle" fill="#111" stroke="#111" stroke-width="0.12">m5</text>
<text transform="translate(103.22 249.5) scale(0.95 1)" font-size="5" text-anchor="middle" fill="#111" stroke="#111" stroke-width="0.12">m2</text>
<text transform="translate(125.39 249.5) scale(0.95 1)" font-size="5" text-anchor="middle" fill="#111" stroke="#111" stroke-width="0.12">m1</text>
<text transform="translate(147.57 249.5) scale(0.95 1)" font-size="5" text-anchor="middle" fill="#111" stroke="#111" stroke-width="0.12">m10</text>
<text transform="translate(169.73 249.5) scale(0.95 1)" font-size="5" text-anchor="middle" fill="#111" stroke="#111" stroke-width="0.12">m5</text>
<text transform="translate(191.91 249.5) scale(0.95 1)" font-size="5" text-anchor="middle" fill="#111" stroke="#111" stroke-width="0.12">m2</text>
<text transform="translate(213.48 249.5) scale(0.95 1)" font-size="5" text-anchor="middle" fill="#111" stroke="#111" stroke-width="0.12">m1/GLasso</text>
<text transform="translate(91.54 258.4) scale(0.95 1)" font-size="5" text-anchor="middle" fill="#111" stroke="#111" stroke-width="0.12">hiGVS</text>
<text transform="translate(181.72 258.4) scale(0.95 1)" font-size="5" text-anchor="middle" fill="#111" stroke="#111" stroke-width="0.12">simTrait</text>
<text transform="translate(238.25 258.4) scale(0.95 1)" font-size="5" text-anchor="middle" fill="#111" stroke="#111" stroke-width="0.12">simQTL</text>
<text transform="translate(260.71 258.4) scale(0.95 1)" font-size="5" text-anchor="middle" fill="#111" stroke="#111" stroke-width="0.12">Lasso</text>
</g>
<g transform="translate(300.1 900)">
<rect x="49.1" y="92.23" width="22.13" height="147.17" fill="#ff0000" stroke="#000" stroke-opacity="0.8" stroke-width="0.55"/>
<text transform="translate(60.16 89.13) scale(0.9 1)" font-size="10" text-anchor="middle" fill="#1a1a1a">253</text>
<rect x="71.23" y="88.15" width="22.13" height="151.25" fill="#ff0000" stroke="#000" stroke-opacity="0.8" stroke-width="0.55"/>
<text transform="translate(82.3 85.05) scale(0.9 1)" font-size="10" text-anchor="middle" fill="#1a1a1a">260</text>
<rect x="93.36" y="112.59" width="22.13" height="126.81" fill="#ff0000" stroke="#000" stroke-opacity="0.8" stroke-width="0.55"/>
<text transform="translate(104.42 109.49) scale(0.9 1)" font-size="10" text-anchor="middle" fill="#1a1a1a">218</text>
<rect x="115.49" y="102.7" width="22.13" height="136.7" fill="#ff0000" stroke="#000" stroke-opacity="0.8" stroke-width="0.55"/>
<text transform="translate(126.56 99.6) scale(0.9 1)" font-size="10" text-anchor="middle" fill="#1a1a1a">235</text>
<rect x="137.62" y="80.59" width="22.13" height="158.81" fill="#0000ff" stroke="#000" stroke-opacity="0.8" stroke-width="0.55"/>
<text transform="translate(148.69 77.49) scale(0.9 1)" font-size="10" text-anchor="middle" fill="#1a1a1a">273</text>
<rect x="159.75" y="85.83" width="22.13" height="153.57" fill="#0000ff" stroke="#000" stroke-opacity="0.8" stroke-width="0.55"/>
<text transform="translate(170.81 82.73) scale(0.9 1)" font-size="10" text-anchor="middle" fill="#1a1a1a">264</text>
<rect x="181.88" y="114.91" width="22.13" height="124.49" fill="#0000ff" stroke="#000" stroke-opacity="0.8" stroke-width="0.55"/>
<text transform="translate(192.94 111.81) scale(0.9 1)" font-size="10" text-anchor="middle" fill="#1a1a1a">214</text>
<rect x="204.01" y="107.93" width="22.13" height="131.47" fill="#0000ff" stroke="#000" stroke-opacity="0.8" stroke-width="0.55"/>
<text transform="translate(215.07 104.83) scale(0.9 1)" font-size="10" text-anchor="middle" fill="#1a1a1a">226</text>
<rect x="226.14" y="86.99" width="22.13" height="152.41" fill="#00cd00" stroke="#000" stroke-opacity="0.8" stroke-width="0.55"/>
<text transform="translate(237.2 83.89) scale(0.9 1)" font-size="10" text-anchor="middle" fill="#1a1a1a">262</text>
<rect x="248.27" y="43.94" width="22.13" height="195.46" fill="#ffff00" stroke="#000" stroke-opacity="0.8" stroke-width="0.55"/>
<text transform="translate(259.33 40.84) scale(0.9 1)" font-size="10" text-anchor="middle" fill="#1a1a1a">336</text>
<text transform="translate(29.7 239.05) rotate(-90) scale(0.96 1)" font-size="9.4" text-anchor="middle" fill="#1a1a1a">0</text>
<text transform="translate(29.7 209.96) rotate(-90) scale(0.96 1)" font-size="9.4" text-anchor="middle" fill="#1a1a1a">50</text>
<text transform="translate(29.7 180.88) rotate(-90) scale(0.96 1)" font-size="9.4" text-anchor="middle" fill="#1a1a1a">100</text>
<text transform="translate(29.7 151.79) rotate(-90) scale(0.96 1)" font-size="9.4" text-anchor="middle" fill="#1a1a1a">150</text>
<text transform="translate(29.7 122.71) rotate(-90) scale(0.96 1)" font-size="9.4" text-anchor="middle" fill="#1a1a1a">200</text>
<text transform="translate(29.7 93.62) rotate(-90) scale(0.96 1)" font-size="9.4" text-anchor="middle" fill="#1a1a1a">250</text>
<text transform="translate(29.7 64.54) rotate(-90) scale(0.96 1)" font-size="9.4" text-anchor="middle" fill="#1a1a1a">300</text>
<text transform="translate(29.7 35.45) rotate(-90) scale(0.96 1)" font-size="9.4" text-anchor="middle" fill="#1a1a1a">350</text>
<path d="M40.4 35.8V239.4M35.4 239.4H40.4M35.4 210.31H40.4M35.4 181.23H40.4M35.4 152.14H40.4M35.4 123.06H40.4M35.4 93.97H40.4M35.4 64.89H40.4M35.4 35.8H40.4" stroke="#3a3a3a" stroke-width="0.75" fill="none"/>
<text transform="translate(10.2 137.6) rotate(-90) scale(0.97 1)" font-size="8.9" text-anchor="middle" fill="#1a1a1a">Frequency</text>
<text transform="translate(159.6 10.5) scale(0.95 1)" font-size="10.4" text-anchor="middle" font-weight="bold" fill="#000" stroke="#000" stroke-width="0.3">FPs (k=5)</text>
<text transform="translate(59.27 249.5) scale(0.95 1)" font-size="5" text-anchor="middle" fill="#111" stroke="#111" stroke-width="0.12">m10</text>
<text transform="translate(81.39 249.5) scale(0.95 1)" font-size="5" text-anchor="middle" fill="#111" stroke="#111" stroke-width="0.12">m5</text>
<text transform="translate(103.52 249.5) scale(0.95 1)" font-size="5" text-anchor="middle" fill="#111" stroke="#111" stroke-width="0.12">m2</text>
<text transform="translate(125.66 249.5) scale(0.95 1)" font-size="5" text-anchor="middle" fill="#111" stroke="#111" stroke-width="0.12">m1</text>
<text transform="translate(147.78 249.5) scale(0.95 1)" font-size="5" text-anchor="middle" fill="#111" stroke="#111" stroke-width="0.12">m10</text>
<text transform="translate(169.91 249.5) scale(0.95 1)" font-size="5" text-anchor="middle" fill="#111" stroke="#111" stroke-width="0.12">m5</text>
<text transform="translate(192.04 249.5) scale(0.95 1)" font-size="5" text-anchor="middle" fill="#111" stroke="#111" stroke-width="0.12">m2</text>
<text transform="translate(213.57 249.5) scale(0.95 1)" font-size="5" text-anchor="middle" fill="#111" stroke="#111" stroke-width="0.12">m1/GLasso</text>
<text transform="translate(91.86 258.4) scale(0.95 1)" font-size="5" text-anchor="middle" fill="#111" stroke="#111" stroke-width="0.12">hiGVS</text>
<text transform="translate(181.88 258.4) scale(0.95 1)" font-size="5" text-anchor="middle" fill="#111" stroke="#111" stroke-width="0.12">simTrait</text>
<text transform="translate(238.3 258.4) scale(0.95 1)" font-size="5" text-anchor="middle" fill="#111" stroke="#111" stroke-width="0.12">simQTL</text>
<text transform="translate(260.73 258.4) scale(0.95 1)" font-size="5" text-anchor="middle" fill="#111" stroke="#111" stroke-width="0.12">Lasso</text>
</g>
</svg>
</body>
</html>
